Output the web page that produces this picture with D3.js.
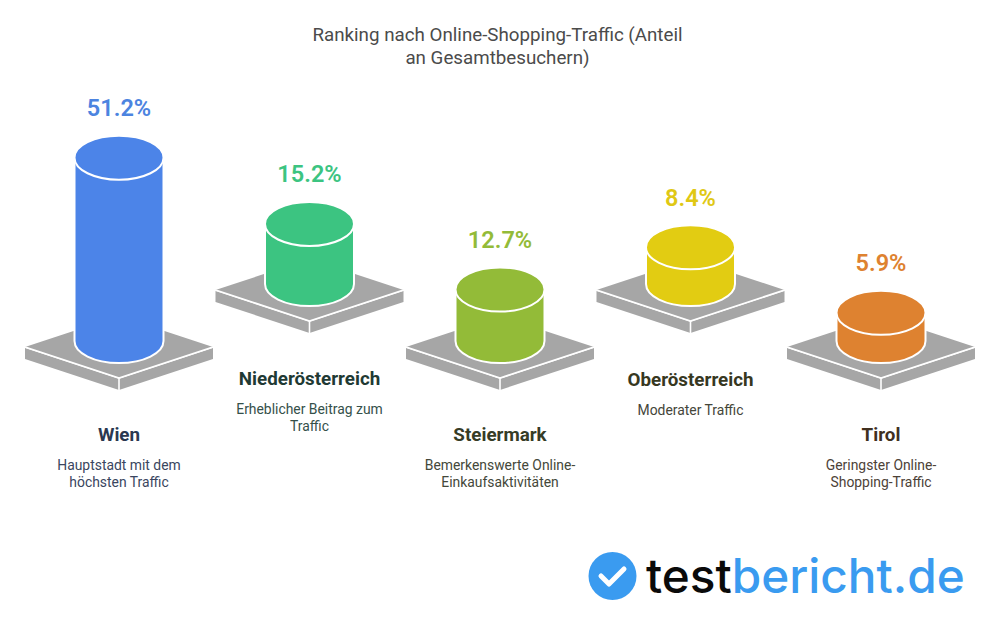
<!DOCTYPE html>
<html lang="de">
<head>
<meta charset="utf-8">
<title>Ranking nach Online-Shopping-Traffic</title>
<script src="https://cdn.jsdelivr.net/npm/d3@7/dist/d3.min.js"></script>
<style>
  html, body { margin: 0; padding: 0; background: #fff; }
  svg { display: block; font-family: Roboto, sans-serif; }
</style>
</head>
<body>
<svg id="chart" width="1000" height="630" role="img"></svg>
<script>
// Chart content
const regions = ["Wien", "Niederösterreich", "Steiermark", "Oberösterreich", "Tirol"];
const shares = [51.2, 15.2, 12.7, 8.4, 5.9];
const notes = [
  ["Hauptstadt mit dem", "höchsten Traffic"],
  ["Erheblicher Beitrag zum", "Traffic"],
  ["Bemerkenswerte Online-", "Einkaufsaktivitäten"],
  ["Moderater Traffic"],
  ["Geringster Online-", "Shopping-Traffic"]
];
const barColors = ["#4c84e8", "#3cc481", "#93bb38", "#e2cc12", "#de8230"];
const valueColors = ["#4c84e0", "#3cc481", "#93bb38", "#e0c814", "#de8230"];
const nameColors = ["#2a3850", "#1f3a34", "#363c26", "#37381f", "#40301f"];
const noteColors = ["#3a4660", "#35504a", "#44483a", "#45463a", "#4d4238"];
const titleLines = ["Ranking nach Online-Shopping-Traffic (Anteil", "an Gesamtbesuchern)"];

const svg = d3.select("#chart");

// Horizontal placement of the five columns, and cylinder height per percent
const x = d3.scalePoint().domain(regions).range([119, 881]);
const height = d3.scaleLinear().domain([0, 51.2]).range([8, 183.3]);

// Even columns sit on the lower row, odd columns on the upper one
const isUpper = i => i % 2 === 1;
const plateY = i => (isUpper(i) ? 290 : 347);

const rx = 44.5, ry = 22;
const plateW = 94, plateH = 31, plateT = 12;
const poly = pts => d3.line()(pts) + "Z";

svg.append("g").selectAll("text").data(titleLines).join("text")
  .attr("x", 497.5).attr("y", (d, i) => 41 + i * 23)
  .attr("text-anchor", "middle").attr("font-size", 18.75).attr("fill", "#4b4b4b")
  .text(d => d);

const cols = svg.append("g").selectAll("g").data(regions).join("g")
  .attr("transform", (d, i) => `translate(${x(d)},${plateY(i)})`);

// Square plate under each cylinder: top face, then the two side faces
cols.append("path")
  .attr("d", poly([[-plateW, 0], [0, -plateH], [plateW, 0], [0, plateH]]))
  .attr("fill", "#a6a6a6");
cols.append("path")
  .attr("d", poly([[-plateW, 1], [0, plateH + 1], [0, plateH + plateT], [-plateW, plateT]]))
  .attr("fill", "#a6a6a6");
cols.append("path")
  .attr("d", poly([[plateW, 1], [0, plateH + 1], [0, plateH + plateT], [plateW, plateT]]))
  .attr("fill", "#a6a6a6");
cols.append("path")
  .attr("d", d3.line()([[-plateW, 0], [0, plateH], [plateW, 0]]))
  .attr("fill", "none").attr("stroke", "#fff").attr("stroke-width", 1.6);
cols.append("path")
  .attr("d", d3.line()([[0, plateH], [0, plateH + plateT]]))
  .attr("stroke", "#fff").attr("stroke-width", 1.6);

// Cylinder body and lid, both outlined in white
const baseY = -6;
cols.append("path")
  .attr("d", (d, i) => {
    const top = baseY - height(shares[i]);
    return `M${-rx},${top}L${-rx},${baseY}A${rx},${ry} 0 0 0 ${rx},${baseY}L${rx},${top}Z`;
  })
  .attr("fill", (d, i) => barColors[i])
  .attr("stroke", "#fff").attr("stroke-width", 2);
cols.append("ellipse")
  .attr("cx", 0).attr("cy", (d, i) => baseY - height(shares[i]))
  .attr("rx", rx).attr("ry", ry)
  .attr("fill", (d, i) => barColors[i])
  .attr("stroke", "#fff").attr("stroke-width", 2);

cols.append("text")
  .attr("y", (d, i) => baseY - height(shares[i]) - 41.5)
  .attr("text-anchor", "middle").attr("font-size", 23.5).attr("font-weight", 600)
  .attr("fill", (d, i) => valueColors[i])
  .text((d, i) => shares[i].toFixed(1) + "%");

// Region name and short description beneath each plate
const labels = svg.append("g").selectAll("g").data(regions).join("g")
  .attr("transform", (d, i) => `translate(${x(d)},${i === 3 ? 386 : isUpper(i) ? 385 : 441})`);
labels.append("text")
  .attr("text-anchor", "middle").attr("font-size", 18.8).attr("font-weight", 700)
  .attr("fill", (d, i) => nameColors[i])
  .text(d => d);
labels.each(function (d, i) {
  d3.select(this).selectAll("text.note").data(notes[i]).join("text")
    .attr("class", "note")
    .attr("y", (l, k) => 29 + k * 17)
    .attr("text-anchor", "middle").attr("font-size", 13.9)
    .attr("fill", noteColors[i])
    .text(l => l);
});

// Publisher mark in the lower right corner
const mark = svg.append("g");
mark.append("circle").attr("cx", 612.5).attr("cy", 576).attr("r", 24).attr("fill", "#3a9bf0");
mark.append("path")
  .attr("d", d3.line()([[601, 576], [609, 584], [624, 569]]))
  .attr("fill", "none").attr("stroke", "#fff").attr("stroke-width", 5)
  .attr("stroke-linecap", "round").attr("stroke-linejoin", "round");
const brand = mark.append("text")
  .attr("x", 646).attr("y", 593)
  .attr("font-family", "Inter, sans-serif").attr("font-size", 47.7).attr("font-weight", 500);
brand.append("tspan").attr("fill", "#0a0a0a").text("test");
brand.append("tspan").attr("fill", "#3a9bf0").text("bericht.de");
</script>
</body>
</html>
